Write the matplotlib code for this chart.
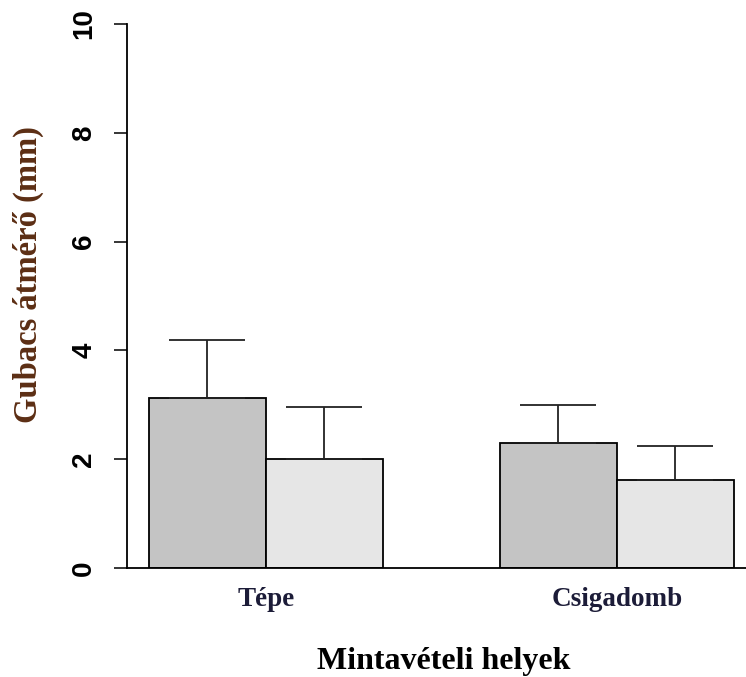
import matplotlib
matplotlib.use("Agg")
import matplotlib.pyplot as plt

# adatok
helyek = ["Tépe", "Csigadomb"]
atlag_sotet = [3.12, 2.30]
atlag_vilagos = [2.00, 1.61]
hiba_sotet = [1.07, 0.69]
hiba_vilagos = [0.96, 0.63]
y_ticks = [0, 2, 4, 6, 8, 10]

W, H = 746, 677
fig = plt.figure(figsize=(W / 100, H / 100), dpi=100)
ax = fig.add_axes([127 / W, 1 - 568 / H, (W - 127) / W, (568 - 24) / H])

# oszlopok (R barplot beside=TRUE, space=c(0,1))
x_sotet = [1.5, 4.5]
x_vilagos = [2.5, 5.5]
ax.bar(x_sotet, atlag_sotet, width=1, color="#c4c4c4", edgecolor="black", linewidth=1.3, zorder=2)
ax.bar(x_vilagos, atlag_vilagos, width=1, color="#e6e6e6", edgecolor="black", linewidth=1.3, zorder=2)

# csak felfelé mutató hibasávok
ax.errorbar(x_sotet, atlag_sotet, yerr=[[0, 0], hiba_sotet], fmt="none", ecolor="#222222",
            elinewidth=1.3, capsize=27.5, capthick=1.3, zorder=3)
ax.errorbar(x_vilagos, atlag_vilagos, yerr=[[0, 0], hiba_vilagos], fmt="none", ecolor="#222222",
            elinewidth=1.3, capsize=27.5, capthick=1.3, zorder=3)

ax.set_xlim(0.812, 6.103)
ax.set_ylim(0, 10)

for s in ["top", "right"]:
    ax.spines[s].set_visible(False)
ax.spines["left"].set_linewidth(1.3)
ax.spines["bottom"].set_linewidth(1.3)

ax.set_yticks(y_ticks)
ax.set_yticklabels([str(v) for v in y_ticks], rotation=90, va="center",
                   fontfamily=["Liberation Sans Narrow", "Liberation Sans"],
                   fontweight="bold", fontsize=20)
ax.tick_params(axis="y", length=9.4, width=1.1, pad=12)

ax.set_xticks([2, 5])
ax.set_xticklabels(helyek, fontfamily="Liberation Serif", fontweight="bold",
                   fontsize=19.5, color="#1c1c38")
ax.tick_params(axis="x", length=0, pad=14)

fig.text(444 / W, 1 - 662 / H, "Mintavételi helyek", ha="center", va="center",
         fontfamily="Liberation Serif", fontweight="bold", fontsize=23, color="black")
fig.text(28 / W, 1 - 275 / H, "Gubacs átmérő (mm)", ha="center", va="center", rotation=90,
         fontfamily="Liberation Serif", fontweight="bold", fontsize=23.5, color="#5c2e14")

fig.savefig("out.png", dpi=100)
